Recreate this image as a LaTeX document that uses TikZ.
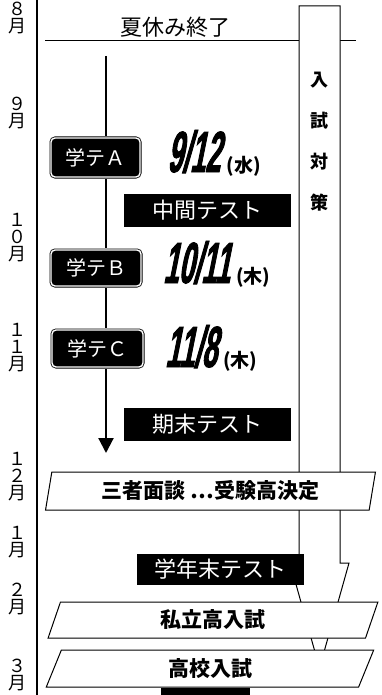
\documentclass[tikz,border=0pt]{standalone}
\usepackage{fontspec}
\setmainfont{Noto Sans CJK JP}
\newfontfamily\datefont{Liberation Sans}[FakeStretch=0.47,FakeSlant=0.2,FakeBold=1.5]
\usetikzlibrary{positioning,arrows.meta,shapes.geometric}
\tikzset{
    month/.style = {
        align=center,
        inner sep=0,
        font=\fontsize{18}{17}\selectfont
    },
    gakute/.style = {
        draw=black,
        fill=black,
        line width=0.8pt,
        double=white,
        double distance=1.4pt,
        rounded corners=4pt,
        text=white,
        minimum width=89,
        minimum height=37,
        inner sep=0,
        font=\fontsize{20}{20}\selectfont
    },
    testbox/.style = {
        fill=black,
        text=white,
        minimum width=167,
        minimum height=33,
        inner sep=0,
        font=\fontsize{22}{22}\selectfont
    },
    plate/.style = {
        draw,
        fill=white,
        line width=1pt,
        shape=trapezium,
        trapezium left angle=78,
        trapezium right angle=102,
        trapezium stretches=true,
        minimum width=331,
        minimum height=38,
        inner sep=0,
        font=\fontsize{21}{21}\selectfont\bfseries
    },
    datetext/.style = {
        anchor=base west,
        inner sep=0,
        font=\fontsize{58}{58}\datefont\bfseries
    },
    daytext/.style = {
        anchor=base west,
        inner sep=0,
        xshift=6pt,
        font=\fontsize{19}{19}\selectfont\bfseries
    },
    timeline/.style = {
        line width=2.2pt,
        shorten <=2pt,
        shorten >=2pt
    },
    >={Triangle[width=15pt,length=15pt]},
}

\begin{document}
\begin{tikzpicture}[x=1pt, y=-1pt]
    \useasboundingbox (0,0) rectangle (382,695);
    \clip (0,0) rectangle (382,695);

    \path[draw, line width=1.3pt] (37,0) -- (37,695);
    \foreach \y/\m [count=\i] in {18/{８\\月}, 113.5/{９\\月}, 237.5/{１\\０\\月}, 348/{１\\１\\月},
        476.5/{１\\２\\月}, 542.5/{１\\月}, 598.5/{２\\月}, 675/{３\\月}}
        \node[month] (month\i) at (18,\y) {\m};

    \coordinate (lineleft) at (45,41);
    \coordinate (lineright) at (356,41);
    \path[draw, line width=1pt] (lineleft) -- (lineright);
    \node[font=\fontsize{22}{22}\selectfont] (summer) at (175,27) {夏休み終了};

    \path[draw, fill=white, line width=1pt] (299,6) -- (340,6) -- (340,563) -- (349,563)
        -- (319.5,668) -- (290,563) -- (299,563) -- cycle;
    \node[align=center, font=\fontsize{18}{41}\selectfont\bfseries] (taisaku) at (319.5,141.5) {入\\試\\対\\策};

    \node[gakute, minimum height=39] (testA) at (95.5,157.5) {学テＡ};
    \node[gakute, minimum width=90, minimum height=36] (testB) at (96,268) {学テＢ};
    \node[gakute, minimum width=91] (testC) at (97.5,348.5) {学テＣ};

    \coordinate (start) at (106,56);
    \coordinate (finish) at (106,453);
    \path[draw, timeline, shorten <=0pt] (start) -- (start |- testA.north);
    \path[draw, timeline] (start |- testA.south) -- (start |- testB.north);
    \path[draw, timeline] (start |- testB.south) -- (start |- testC.north);
    \path[draw, timeline, ->, shorten >=0pt] (start |- testC.south) -- (finish);

    \node[datetext] (dateA) at (167,172) {9/12};
    \node[daytext] (dayA) at (dateA.base east) {(水)};
    \node[datetext] (dateB) at (163,283) {10/11};
    \node[daytext] (dayB) at (dateB.base east) {(木)};
    \node[datetext] (dateC) at (165,367) {11/8};
    \node[daytext] (dayC) at (dateC.base east) {(木)};

    \node[testbox] (chukan) at (207.5,210.5) {中間テスト};
    \node[testbox] (kimatsu) at (207.5,424.5) {期末テスト};
    \node[testbox, minimum height=31] (gakunen) at (220.5,569.5) {学年末テスト};

    \node[plate] (mendan) at (210.5,491) {三者面談\ ⋯受験高決定};
    \node[plate, minimum width=330, minimum height=36] (shiritsu) at (213,620) {私立高入試};
    \node[plate, minimum width=328, minimum height=37] (koko) at (210,668.5) {高校入試};

    \node[testbox, minimum width=89, minimum height=20] (nexttest) at (205.5,698) {};
\end{tikzpicture}
\end{document}
